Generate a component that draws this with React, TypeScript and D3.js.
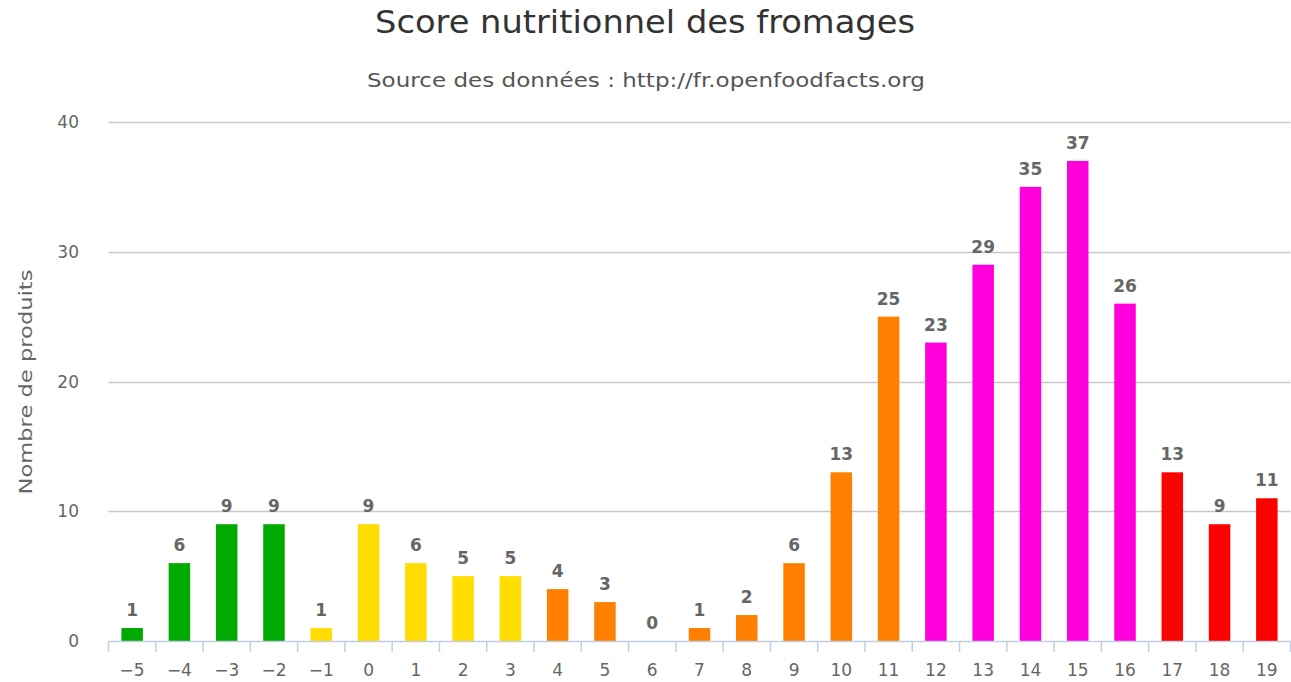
import React from "react";
import * as d3 from "d3";

const categories = ["−5","−4","−3","−2","−1","0","1","2","3","4","5","6","7","8","9","10","11","12","13","14","15","16","17","18","19"];
const values = [1,6,9,9,1,9,6,5,5,4,3,0,1,2,6,13,25,23,29,35,37,26,13,9,11];
const barColors = ["#00aa00","#00aa00","#00aa00","#00aa00","#ffdd00","#ffdd00","#ffdd00","#ffdd00","#ffdd00","#ff7f00","#ff7f00","#ff7f00","#ff7f00","#ff7f00","#ff7f00","#ff7f00","#ff7f00","#ff00dd","#ff00dd","#ff00dd","#ff00dd","#ff00dd","#ff0000","#ff0000","#ff0000"];
const yTicks = [0,10,20,30,40];
const title = "Score nutritionnel des fromages";
const subtitle = "Source des données : http://fr.openfoodfacts.org";
const yTitle = "Nombre de produits";

const W = 1291, H = 682;
const left = 108.5, right = 1290.5, top = 122, bottom = 641;
const FONT = "'DejaVu Sans', Verdana, sans-serif";

export default function App() {
  const x = d3.scaleBand<string>().domain(categories).range([left, right]).paddingInner(0).paddingOuter(0);
  const y = d3.scaleLinear().domain([0, 40]).range([bottom, top]);
  const bw = 21.5;
  return (
    <svg width={W} height={H} style={{ position: "absolute", left: 0, top: 0, background: "#fff" }} fontFamily={FONT}>
      <text x={645} y={33} textAnchor="middle" fontSize={32} fill="#333" textLength={540} lengthAdjust="spacingAndGlyphs">{title}</text>
      <text x={646} y={87} textAnchor="middle" fontSize={19} fill="#555" textLength={558} lengthAdjust="spacingAndGlyphs">{subtitle}</text>
      {yTicks.map(t => (
        <g key={t}>
          {t > 0 && <line x1={left} x2={right} y1={Math.round(y(t)) + 0.5} y2={Math.round(y(t)) + 0.5} stroke="#c8c8c8" strokeWidth={1.5} />}
          <text x={79} y={y(t) + 6} textAnchor="end" fontSize={17} fill="#666">{t}</text>
        </g>
      ))}
      <text transform={`translate(32,${382}) rotate(-90)`} textAnchor="middle" fontSize={18.5} fill="#666" textLength={225} lengthAdjust="spacingAndGlyphs">{yTitle}</text>
      {categories.map((c, i) => {
        const cx = (x(c) as number) + x.bandwidth() / 2;
        const v = values[i];
        return (
          <g key={c}>
            {v > 0 && <rect x={cx - bw / 2} y={y(v)} width={bw} height={bottom - y(v)} fill={barColors[i]} />}
            <text x={cx} y={y(v) - 12} textAnchor="middle" fontSize={17} fontWeight="bold" fill="#666">{v}</text>
            <text x={cx} y={676} textAnchor="middle" fontSize={17} fill="#666">{c}</text>
          </g>
        );
      })}
      <line x1={left} x2={right} y1={bottom + 0.5} y2={bottom + 0.5} stroke="#c0d0e0" strokeWidth={1.5} />
      {categories.concat([""]).map((c, i) => {
        const tx = left + i * x.bandwidth();
        return <line key={i} x1={tx} x2={tx} y1={bottom} y2={bottom + 11} stroke="#c0d0e0" strokeWidth={1.5} />;
      })}
    </svg>
  );
}
